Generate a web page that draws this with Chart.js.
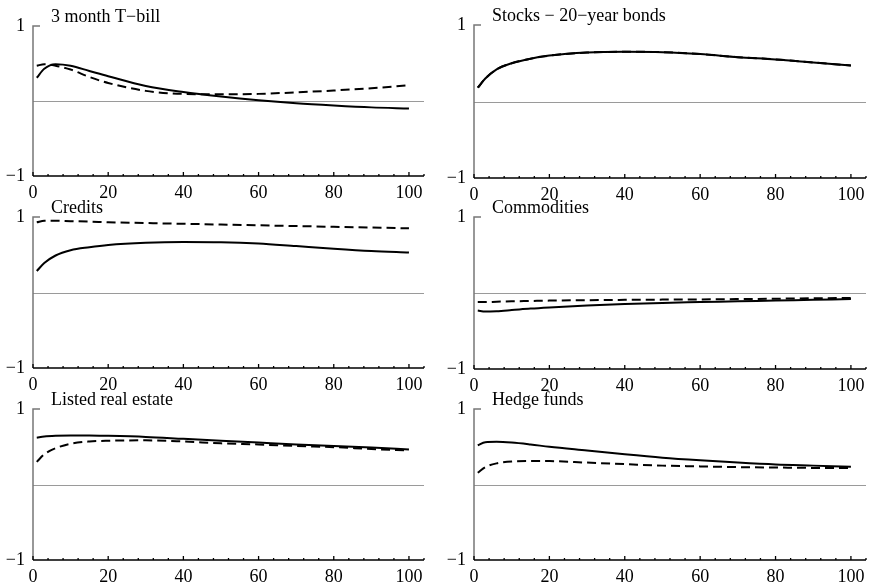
<!DOCTYPE html>
<html>
<head>
<meta charset="utf-8">
<script src="https://cdn.jsdelivr.net/npm/chart.js@4"></script>
<style>
  body { margin: 0; background: #fff; }
  #wrap { position: relative; width: 869px; height: 583px; overflow: hidden; }
  #wrap canvas { position: absolute; }
</style>
</head>
<body>
<div id="wrap"></div>
<script>
const horizon = [1, 3, 6, 10, 15, 20, 30, 40, 50, 60, 70, 80, 90, 100];
const xTicks = [0, 20, 40, 60, 80, 100];
const yTicks = [-1, 1];

const panelTitles = ["3 month T\u2212bill", "Stocks \u2212 20\u2212year bonds", "Credits",
                     "Commodities", "Listed real estate", "Hedge funds"];

const tbillSolid   = [0.31, 0.43, 0.49, 0.47, 0.40, 0.33, 0.20, 0.12, 0.06, 0.01, -0.03, -0.06, -0.085, -0.10];
const tbillDashed  = [0.47, 0.49, 0.47, 0.42, 0.32, 0.24, 0.135, 0.095, 0.09, 0.095, 0.115, 0.14, 0.17, 0.21];
const stocksSolid  = [0.18, 0.30, 0.42, 0.50, 0.56, 0.60, 0.64, 0.65, 0.645, 0.62, 0.58, 0.55, 0.51, 0.47];
const stocksDashed = [0.18, 0.30, 0.42, 0.50, 0.56, 0.60, 0.64, 0.65, 0.645, 0.62, 0.58, 0.55, 0.51, 0.47];
const creditSolid  = [0.285, 0.39, 0.49, 0.56, 0.60, 0.63, 0.66, 0.67, 0.667, 0.65, 0.615, 0.58, 0.55, 0.53];
const creditDashed = [0.93, 0.95, 0.95, 0.945, 0.94, 0.93, 0.92, 0.91, 0.90, 0.89, 0.88, 0.87, 0.86, 0.85];
const commSolid    = [-0.23, -0.245, -0.24, -0.225, -0.205, -0.19, -0.165, -0.145, -0.13, -0.12, -0.11, -0.10, -0.09, -0.08];
const commDashed   = [-0.12, -0.12, -0.115, -0.11, -0.105, -0.10, -0.095, -0.09, -0.087, -0.085, -0.08, -0.075, -0.07, -0.065];
const realSolid    = [0.62, 0.635, 0.645, 0.65, 0.65, 0.645, 0.63, 0.605, 0.58, 0.555, 0.53, 0.51, 0.49, 0.465];
const realDashed   = [0.30, 0.40, 0.48, 0.54, 0.57, 0.58, 0.585, 0.57, 0.545, 0.53, 0.51, 0.495, 0.47, 0.45];
const hedgeSolid   = [0.52, 0.56, 0.565, 0.555, 0.53, 0.50, 0.45, 0.40, 0.355, 0.32, 0.29, 0.265, 0.25, 0.235];
const hedgeDashed  = [0.155, 0.23, 0.28, 0.305, 0.31, 0.31, 0.29, 0.27, 0.25, 0.24, 0.23, 0.225, 0.22, 0.22];

const panelSeries = [
  [tbillSolid, tbillDashed],
  [stocksSolid, stocksDashed],
  [creditSolid, creditDashed],
  [commSolid, commDashed],
  [realSolid, realDashed],
  [hedgeSolid, hedgeDashed]
];

const FONT = "'Liberation Serif', 'Times New Roman', serif";
const FSIZE = 18;

// canvas boxes: [left, top, width, height, padTop, padRight, xAxisHeight]
const boxes = [
  [0, 0, 430, 200, 26, 6, 24], [441, 0, 431, 202, 25, 6, 24],
  [0, 191, 430, 201, 26, 6, 24], [441, 191, 431, 202, 26, 6, 24],
  [0, 383, 430, 200, 26, 6, 23], [441, 383, 431, 200, 26, 6, 23]
];

const framePlugin = {
  id: "frame",
  beforeDatasetsDraw(chart) {
    const { ctx, chartArea, scales: { y } } = chart;
    const y0 = y.getPixelForValue(0);
    ctx.save();
    ctx.strokeStyle = "#9a9a9a";
    ctx.lineWidth = 1;
    ctx.beginPath();
    ctx.moveTo(chartArea.left, Math.round(y0) + 0.5);
    ctx.lineTo(chartArea.right, Math.round(y0) + 0.5);
    ctx.stroke();
    ctx.restore();
  },
  afterDraw(chart) {
    const { ctx, chartArea, scales: { x, y } } = chart;
    const left = x.getPixelForValue(0);
    const top = y.getPixelForValue(1);
    const bottom = y.getPixelForValue(-1);
    ctx.save();
    // y axis
    ctx.strokeStyle = "#777";
    ctx.lineWidth = 1.5;
    ctx.beginPath();
    ctx.moveTo(left, bottom);
    ctx.lineTo(left, top);
    ctx.lineTo(left + 7, top);
    ctx.stroke();
    // x axis and inward ticks
    ctx.strokeStyle = "#000";
    ctx.lineWidth = 1.3;
    ctx.beginPath();
    ctx.moveTo(left, bottom);
    ctx.lineTo(chartArea.right, bottom);
    for (let v = 0; v <= x.max; v += 4) {
      const px = x.getPixelForValue(v);
      const len = v % 20 === 0 ? 4 : 2;
      ctx.moveTo(px, bottom);
      ctx.lineTo(px, bottom - len);
    }
    ctx.stroke();
    // title
    ctx.fillStyle = "#000";
    ctx.font = FSIZE + "px " + FONT;
    ctx.textBaseline = "alphabetic";
    ctx.textAlign = "left";
    ctx.fillText(chart.options.plugins.frame.title, left + 18, top - 4);
    ctx.restore();
  }
};

const wrap = document.getElementById("wrap");

panelSeries.forEach((series, i) => {
  const [bl, bt, bw, bh, padTop, padRight, xH] = boxes[i];
  const canvas = document.createElement("canvas");
  canvas.style.left = bl + "px";
  canvas.style.top = bt + "px";
  canvas.style.width = bw + "px";
  canvas.style.height = bh + "px";
  canvas.width = bw;
  canvas.height = bh;
  wrap.appendChild(canvas);

  new Chart(canvas.getContext("2d"), {
    type: "line",
    data: {
      datasets: series.map((vals, k) => ({
        data: horizon.map((h, j) => ({ x: h, y: vals[j] })),
        borderColor: "#000",
        borderWidth: 2,
        borderDash: k === 1 ? [9, 5] : [],
        pointRadius: 0,
        cubicInterpolationMode: "monotone",
        fill: false
      }))
    },
    options: {
      responsive: false,
      animation: false,
      layout: { padding: { top: padTop, right: padRight, left: 0, bottom: 0 } },
      plugins: {
        legend: { display: false },
        tooltip: { enabled: false },
        frame: { title: panelTitles[i] }
      },
      scales: {
        x: {
          type: "linear",
          min: 0,
          max: 104,
          grid: { display: false, drawTicks: false },
          border: { display: false },
          afterBuildTicks: (s) => { s.ticks = xTicks.map(v => ({ value: v })); },
          afterFit: (s) => { s.height = xH; },
          ticks: {
            color: "#000",
            padding: 6,
            maxRotation: 0,
            font: { family: FONT, size: FSIZE }
          }
        },
        y: {
          min: -1,
          max: 1,
          grid: { display: false, drawTicks: false },
          border: { display: false },
          afterBuildTicks: (s) => { s.ticks = yTicks.map(v => ({ value: v })); },
          afterFit: (s) => { s.width = 33; },
          ticks: {
            color: "#000",
            padding: 8,
            font: { family: FONT, size: FSIZE },
            callback: (v) => (v < 0 ? "\u2212" + Math.abs(v) : String(v))
          }
        }
      }
    },
    plugins: [framePlugin]
  });
});
</script>
</body>
</html>
